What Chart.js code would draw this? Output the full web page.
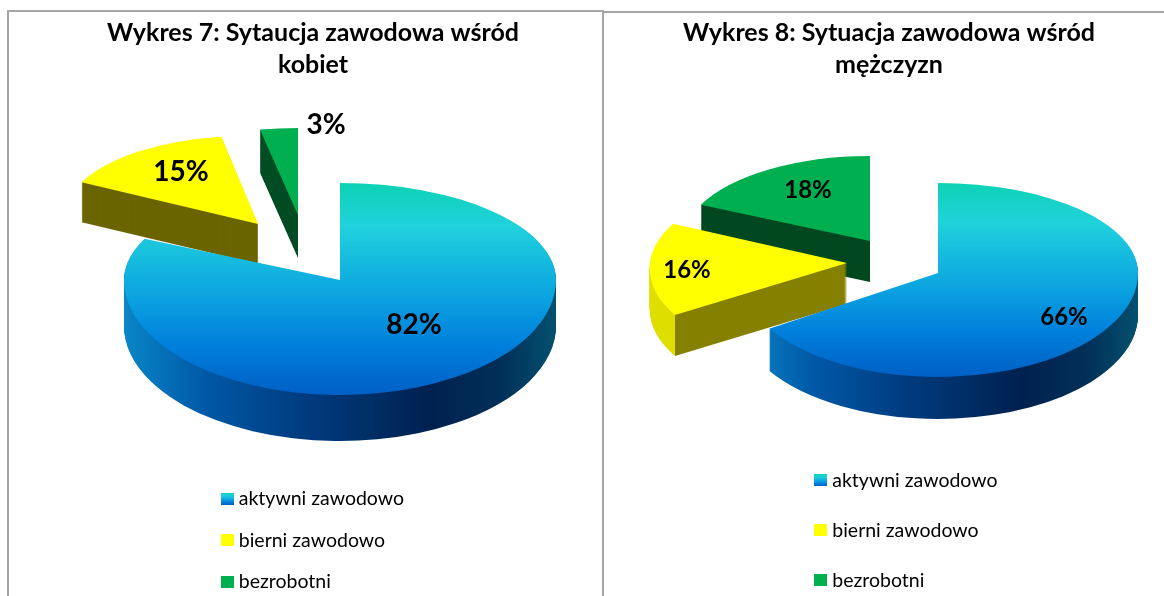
<!DOCTYPE html>
<html>
<head>
<meta charset="utf-8">
<script src="https://cdn.jsdelivr.net/npm/chart.js@4"></script>
<style>
  html, body { margin: 0; padding: 0; background: #fff; overflow: hidden; }
  #page { position: relative; width: 1164px; height: 596px; overflow: hidden; }
  .panel { position: absolute; box-sizing: border-box; border: 0 solid #a6a6a6; }
  #panelLeft { left: 7px; top: 10px; width: 597px; height: 620px; border-width: 2px; }
  #panelRight { left: 604px; top: 11px; width: 560px; height: 620px; border-top-width: 2px; }
  .holder { position: absolute; top: 0; height: 596px; }
  #holderLeft { left: 8px; width: 610px; }
  #holderRight { left: 614px; width: 550px; }
</style>
</head>
<body>
<div id="page">
  <div class="panel" id="panelLeft"></div>
  <div class="panel" id="panelRight"></div>
  <div class="holder" id="holderLeft"><canvas id="chartLeft"></canvas></div>
  <div class="holder" id="holderRight"><canvas id="chartRight"></canvas></div>
</div>
<script>
const categories = ["aktywni zawodowo", "bierni zawodowo", "bezrobotni"];
const womenValues = [82, 15, 3];
const menValues = [66, 16, 18];
const womenTitle = ["Wykres 7: Sytaucja zawodowa wśród", "kobiet"];
const menTitle = ["Wykres 8: Sytuacja zawodowa wśród", "mężczyzn"];

const fontName = "Lato, 'Open Sans', sans-serif";
const blueTop = [[0, "#0dd2b4"], [0.22, "#20d2dc"], [0.5, "#10aee0"], [0.78, "#0080dc"], [1, "#005fc4"]];
const blueSide = [[0, "#0a86c8"], [0.18, "#005aa8"], [0.41, "#003c80"], [0.71, "#00214f"], [0.87, "#012f58"], [1, "#04506f"]];

// where each slice sits on the page, relative to its canvas (fake 3D, viewed from above)
const womenSlices = [
  { cx: 332, cy: 280, rx: 216, back: 97, front: 115, depth: 46, top: blueTop, side: blueSide },
  { cx: 250, cy: 224, rx: 195, back: 88, front: 88, shearY: 0.024, depth: 40, top: "#ffff00", side: "#6b6500" },
  { cx: 290, cy: 215, rx: 203, back: 87, front: 87, depth: 43, top: "#00b050", side: "#024d24" },
];
const menSlices = [
  { cx: 324, cy: 273, rx: 200, back: 90, front: 104, depth: 42, top: blueTop, side: blueSide },
  { cx: 233, cy: 263, rx: 197, back: 92, front: 97, shearX: -0.11, depth: 41, top: "#ffff00",
    side: [[0, "#dede00"], [0.078, "#dede00"], [0.078, "#858000"], [1, "#858000"]] },
  { cx: 256, cy: 241, rx: 187, back: 85, front: 85, depth: 41, top: "#00b050", side: "#024820" },
];
const womenLabelSpots = [[406, 325, 28], [173, 172, 28], [318, 125, 28]];
const menLabelSpots = [[450, 317, 24], [73, 270, 24], [194, 190, 24]];

function legendSwatch(fill, w) {
  const c = document.createElement("canvas");
  c.width = w;
  c.height = 12;
  const g = c.getContext("2d");
  g.fillStyle = fill;
  if (Array.isArray(fill)) {
    const grad = g.createLinearGradient(0, 0, 0, 12);
    fill.forEach((st) => grad.addColorStop(st[0], st[1]));
    g.fillStyle = grad;
  }
  g.fillRect(0, 0, w, 12);
  return c;
}

function makeFill(ctx, arc, fill, vertical) {
  if (!Array.isArray(fill)) return fill;
  const R = arc.outerRadius;
  const grad = vertical
    ? ctx.createLinearGradient(0, arc.y - R, 0, arc.y + R)
    : ctx.createLinearGradient(arc.x - R, 0, arc.x + R, 0);
  fill.forEach((st) => grad.addColorStop(st[0], st[1]));
  return grad;
}

// squash the library's arc into an ellipse, with a flatter back half than front half
function drawFlat(chart, arc, s, fill, dy) {
  const ctx = chart.ctx;
  const saved = arc.options;
  arc.options = { ...saved, backgroundColor: fill };
  const R = arc.outerRadius;
  const yMid = s.cy + dy;
  [[s.back, 0, yMid], [s.front, yMid, chart.height - yMid]].forEach((part) => {
    ctx.save();
    ctx.beginPath();
    ctx.rect(0, part[1], chart.width, part[2]);
    ctx.clip();
    ctx.translate(s.cx, yMid);
    ctx.transform(1, s.shearY || 0, s.shearX || 0, 1, 0, 0);
    ctx.scale(s.rx / R, part[0] / R);
    ctx.translate(-arc.x, -arc.y);
    arc.draw(ctx);
    ctx.restore();
  });
  arc.options = saved;
}

function makeChart(id, title, values, slices, labelSpots, legendLeft, legendTop, legendGap) {
  const piePlugin = {
    id: "pie3d",
    beforeDraw(chart) {
      const legend = chart.legend;
      legend.left = legendLeft;
      legend.right = legendLeft + 220;
      legend.top = legendTop;
      legend.bottom = legendTop + 300;
    },
    beforeDatasetDraw(chart, args) {
      const ctx = chart.ctx;
      const arcs = args.meta.data;
      [2, 1, 0].forEach((i) => {
        const s = slices[i];
        const side = makeFill(ctx, arcs[i], s.side, false);
        for (let d = s.depth; d >= 1; d--) {
          drawFlat(chart, arcs[i], s, side, d);
        }
        drawFlat(chart, arcs[i], s, makeFill(ctx, arcs[i], s.top, true), 0);
      });
      return false;
    },
    afterDatasetsDraw(chart) {
      const ctx = chart.ctx;
      ctx.save();
      ctx.fillStyle = "#000";
      ctx.textAlign = "center";
      ctx.textBaseline = "middle";
      values.forEach((v, i) => {
        ctx.font = "bold " + labelSpots[i][2] + "px " + fontName;
        ctx.fillText(v + "%", labelSpots[i][0], labelSpots[i][1]);
      });
      ctx.restore();
    },
  };

  return new Chart(document.getElementById(id), {
    type: "pie",
    data: {
      labels: categories,
      datasets: [
        {
          data: values,
          backgroundColor: ["#10aee0", "#ffff00", "#00b050"],
          borderWidth: 0,
        },
      ],
    },
    options: {
      responsive: true,
      maintainAspectRatio: false,
      animation: false,
      plugins: {
        tooltip: { enabled: false },
        title: {
          display: true,
          text: title,
          color: "#000",
          font: { family: fontName, size: 25, weight: "bold", lineHeight: 1.29 },
          padding: { top: 17, bottom: 10 },
        },
        legend: {
          position: "left",
          align: "start",
          labels: {
            usePointStyle: true,
            pointStyleWidth: 4,
            boxHeight: 12,
            padding: legendGap,
            color: "#111",
            font: { family: fontName, size: 19.5 },
            generateLabels: () =>
              categories.map((name, i) => ({
                text: name,
                fillStyle: "#fff",
                lineWidth: 0,
                hidden: false,
                index: i,
                pointStyle: legendSwatch(slices[i].top, 13),
              })),
          },
        },
      },
    },
    plugins: [piePlugin],
  });
}

makeChart("chartLeft", womenTitle, womenValues, womenSlices, womenLabelSpots, 195, 467, 22);
makeChart("chartRight", menTitle, menValues, menSlices, menLabelSpots, 174, 440, 30.5);
</script>
</body>
</html>
